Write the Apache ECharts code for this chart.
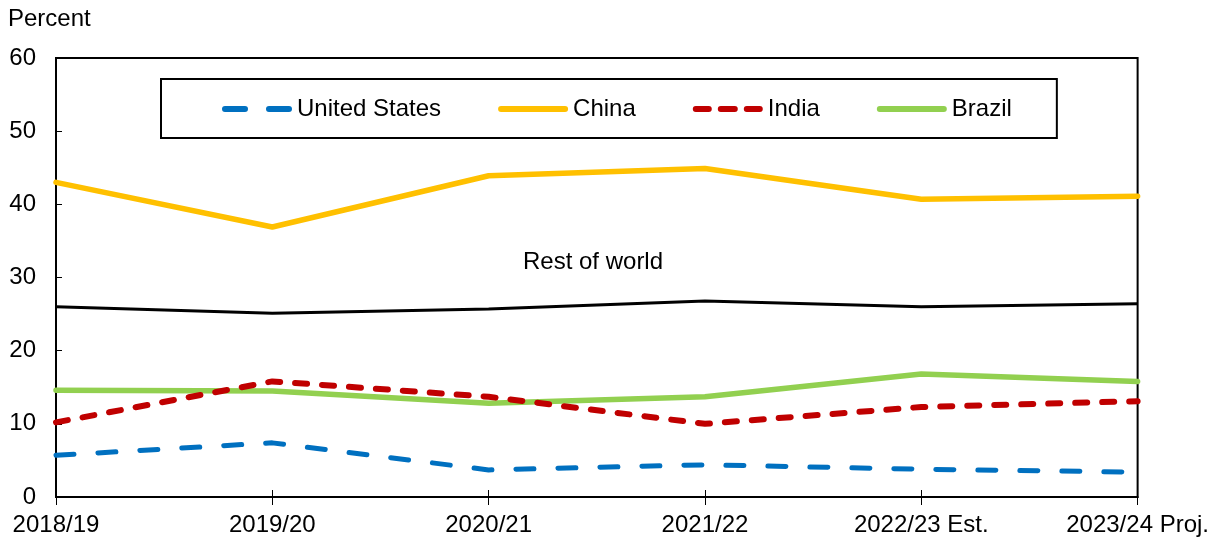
<!DOCTYPE html>
<html>
<head>
<meta charset="utf-8">
<script src="https://cdn.jsdelivr.net/npm/echarts@6/dist/echarts.min.js"></script>
<style>
  html, body { margin: 0; padding: 0; background: #fff; }
  #chart { width: 1212px; height: 537px; }
</style>
</head>
<body>
<div id="chart"></div>
<script>
const categories = ['2018/19', '2019/20', '2020/21', '2021/22', '2022/23 Est.', '2023/24 Proj.'];
const unitedStates = [5.7, 7.4, 3.7, 4.4, 3.8, 3.4];
const china = [43.0, 36.9, 43.9, 44.9, 40.7, 41.1];
const india = [10.2, 15.8, 13.7, 10.0, 12.3, 13.1];
const brazil = [14.6, 14.5, 12.8, 13.7, 16.8, 15.8];
const restOfWorld = [26.0, 25.1, 25.7, 26.8, 26.0, 26.4];
const yTicks = { min: 0, max: 60, interval: 10 };

const FONT = 'Liberation Sans, Arial, sans-serif';
const FS = 24;

function dashPath(segs, h) {
  const r = h / 2;
  return 'path://' + segs.map(function (s) {
    const a = s[0], b = s[1];
    return 'M' + (a + r) + ' 0 L' + (b - r) + ' 0 A' + r + ' ' + r + ' 0 0 1 ' + (b - r) + ' ' + h +
      ' L' + (a + r) + ' ' + h + ' A' + r + ' ' + r + ' 0 0 1 ' + (a + r) + ' 0 Z';
  }).join(' ');
}
const solidIcon = dashPath([[0, 70]], 6);
const usIcon = dashPath([[0, 26], [44, 70]], 6);
const indiaIcon = dashPath([[0, 19], [25, 45], [51, 70]], 6);

const chart = echarts.init(document.getElementById('chart'), null, { renderer: 'canvas' });

chart.setOption({
  animation: false,
  backgroundColor: '#ffffff',
  textStyle: { fontFamily: FONT, color: '#000' },
  grid: {
    left: 56, right: 70, top: 58, bottom: 40,
    show: true, borderColor: '#000', borderWidth: 2, backgroundColor: 'transparent'
  },
  graphic: [
    { type: 'text', left: 8, top: 7, style: { text: 'Percent', font: FS + 'px ' + FONT, fill: '#000' } },
    { type: 'text', left: 523, top: 250, style: { text: 'Rest of world', font: FS + 'px ' + FONT, fill: '#000' } }
  ],
  legend: {
    left: 161, top: 79,
    padding: [18, 45, 17, 61],
    borderColor: '#000', borderWidth: 2,
    itemWidth: 70, itemHeight: 6, itemGap: 57,
    textStyle: { fontSize: FS, fontFamily: FONT, color: '#000' },
    data: [
      { name: 'United States', icon: usIcon },
      { name: 'China', icon: solidIcon },
      { name: 'India', icon: indiaIcon },
      { name: 'Brazil', icon: solidIcon }
    ]
  },
  xAxis: [
    {
      type: 'category',
      data: categories,
      boundaryGap: false,
      axisLine: { lineStyle: { color: '#000', width: 2 } },
      axisTick: { show: true, length: 8, lineStyle: { color: '#000', width: 1 } },
      axisLabel: { fontSize: FS, fontFamily: FONT, color: '#000', margin: 16, interval: 0 },
      splitLine: { show: false }
    },
    {
      type: 'category',
      data: categories,
      position: 'bottom',
      boundaryGap: false,
      axisLine: { show: false },
      axisTick: { show: true, inside: true, length: 7, lineStyle: { color: '#000', width: 1 } },
      axisLabel: { show: false },
      splitLine: { show: false }
    }
  ],
  yAxis: {
    type: 'value',
    min: yTicks.min, max: yTicks.max, interval: yTicks.interval,
    axisLine: { show: true, lineStyle: { color: '#000', width: 2 } },
    axisTick: { show: true, inside: true, length: 6, lineStyle: { color: '#000', width: 1 } },
    axisLabel: { fontSize: FS, fontFamily: FONT, color: '#000', margin: 20 },
    splitLine: { show: false }
  },
  series: [
    {
      name: 'Rest of world', type: 'line', data: restOfWorld, symbol: 'none', z: 2,
      lineStyle: { color: '#000', width: 3 }, itemStyle: { color: '#000' }
    },
    {
      name: 'Brazil', type: 'line', data: brazil, symbol: 'none', z: 3,
      lineStyle: { color: '#92D050', width: 5.5, cap: 'round' }, itemStyle: { color: '#92D050' }
    },
    {
      name: 'China', type: 'line', data: china, symbol: 'none', z: 3,
      lineStyle: { color: '#FFC000', width: 5.5, cap: 'round' }, itemStyle: { color: '#FFC000' }
    },
    {
      name: 'India', type: 'line', data: india, symbol: 'none', z: 4,
      lineStyle: { color: '#C00000', width: 6, type: [12, 15], cap: 'round' }, itemStyle: { color: '#C00000' }
    },
    {
      name: 'United States', type: 'line', data: unitedStates, symbol: 'none', z: 4,
      lineStyle: { color: '#0070C0', width: 5, type: [18, 24], cap: 'round' }, itemStyle: { color: '#0070C0' }
    }
  ]
});
</script>
</body>
</html>
